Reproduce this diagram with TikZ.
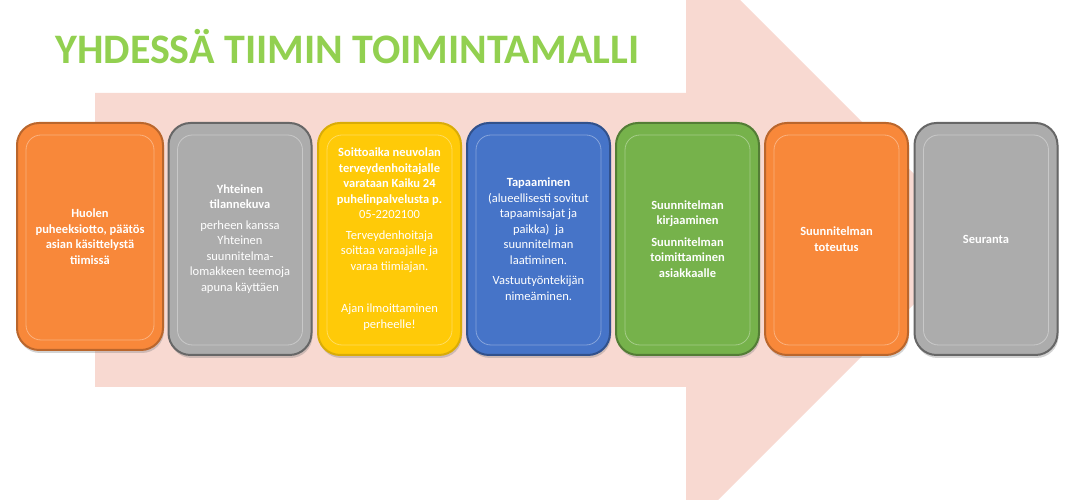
\documentclass[tikz,border=0pt]{standalone}
\usepackage{fontspec}
\setmainfont{Carlito}
\usepackage{tikz}
\usetikzlibrary{shadows}
\definecolor{nuoli}{RGB}{248,217,209}
\definecolor{otsikko}{RGB}{146,208,80}
\definecolor{oranssi}{RGB}{248,136,58}
\definecolor{harmaa}{RGB}{172,172,172}
\definecolor{keltainen}{RGB}{255,202,8}
\definecolor{sininen}{RGB}{70,116,200}
\definecolor{vihrea}{RGB}{118,178,75}

\begin{document}
\begin{tikzpicture}[x=1pt,y=1pt,
  etappi/.style={rectangle, rounded corners=22pt, minimum width=143pt, minimum height=232pt,
    line width=2pt, text=white, align=center, inner sep=0pt,
    font=\fontsize{12.5}{15.5}\selectfont,
    drop shadow={shadow xshift=1pt, shadow yshift=-3pt, opacity=.35},
    path picture={\draw[rounded corners=15pt, line width=.8pt, draw=white, opacity=.35]
      ([shift={(9pt,10pt)}]path picture bounding box.south west) rectangle
      ([shift={(-9pt,-12pt)}]path picture bounding box.north east);}},
  oranssietappi/.style={etappi, fill=oranssi, draw=oranssi!75!black},
  harmaaetappi/.style={etappi, fill=harmaa, draw=harmaa!60!black},
  keltainenetappi/.style={etappi, fill=keltainen, draw=keltainen!85!black},
  sininenetappi/.style={etappi, fill=sininen, draw=sininen!70!black},
  vihreaetappi/.style={etappi, fill=vihrea, draw=vihrea!70!black}]

\useasboundingbox (0,0) rectangle (1090,500);

\begin{scope}
\clip (0,0) rectangle (1090,500);
\fill[nuoli] (95,407)--(686,407)--(686,554)--(979,261)--(686,-32)--(686,113)--(95,113)--cycle;
\end{scope}

\node[anchor=west, inner sep=0pt, text=otsikko, font=\fontsize{42}{50}\selectfont\bfseries]
  (otsikko) at (55,453) {YHDESSÄ TIIMIN TOIMINTAMALLI};

\node[oranssietappi, minimum width=146pt, minimum height=227pt] (huoli) at (90,263.5)
  {\textbf{Huolen}\\ \textbf{puheeksiotto, päätös}\\ \textbf{asian käsittelystä}\\ \textbf{tiimissä}};

\node[harmaaetappi] (tilanne) at (240,261)
  {\textbf{Yhteinen}\\ \textbf{tilannekuva}\\[5pt]
   perheen kanssa\\ Yhteinen\\ suunnitelma-\\ lomakkeen teemoja\\ apuna käyttäen};

\node[keltainenetappi] (soitto) at (389.5,261)
  {\textbf{Soittoaika neuvolan}\\ \textbf{terveydenhoitajalle}\\ \textbf{varataan Kaiku 24}\\
   \textbf{puhelinpalvelusta p.}\\ 05-2202100\\[5pt]
   Terveydenhoitaja\\ soittaa varaajalle ja\\ varaa tiimiajan.\\[27pt]
   Ajan ilmoittaminen\\ perheelle!};

\node[sininenetappi] (tapaaminen) at (538.5,261)
  {\textbf{Tapaaminen}\\ (alueellisesti sovitut\\ tapaamisajat ja\\ paikka)\ \ ja\\
   suunnitelman\\ laatiminen.\\[5pt]
   Vastuutyöntekijän\\ nimeäminen.};

\node[vihreaetappi] (kirjaus) at (687.5,261)
  {\textbf{Suunnitelman}\\ \textbf{kirjaaminen}\\[6pt]
   \textbf{Suunnitelman}\\ \textbf{toimittaminen}\\ \textbf{asiakkaalle}};

\node[oranssietappi] (toteutus) at (836.5,261)
  {\textbf{Suunnitelman}\\ \textbf{toteutus}};

\node[harmaaetappi] (seuranta) at (986,261)
  {\textbf{Seuranta}};

\end{tikzpicture}
\end{document}
